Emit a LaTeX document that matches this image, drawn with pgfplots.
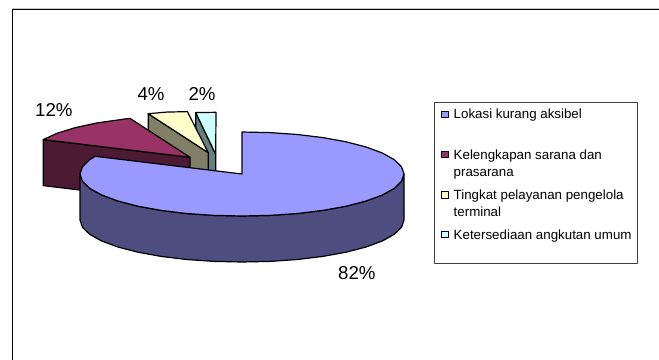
\documentclass[border=0pt]{standalone}
\usepackage{fontspec}
\setmainfont{Liberation Sans}
\usepackage{pgfplots}
\pgfplotsset{compat=1.18}

\definecolor{sliceA}{HTML}{9999FF}
\definecolor{sideA}{HTML}{4D4D80}
\definecolor{sliceB}{HTML}{993366}
\definecolor{sideB}{HTML}{4D1A33}
\definecolor{sliceC}{HTML}{FFFFCC}
\definecolor{sideC}{HTML}{808066}
\definecolor{sliceD}{HTML}{CCFFFF}
\definecolor{sideD}{HTML}{668080}

\newcommand{\pct}{\fontsize{18.67bp}{22bp}\selectfont}
\newcommand{\lgd}{\fontsize{13.33bp}{16bp}\selectfont}

\begin{document}
\begin{tikzpicture}
\begin{axis}[
  scale only axis, width=659bp, height=360bp,
  xmin=0, xmax=659, ymin=0, ymax=360, y dir=reverse,
  hide axis, clip=true,
  every axis plot/.append style={line width=1.2bp, line join=round},
]
% page background and outer frame
\addplot[draw=none, fill=white] coordinates {(0,0) (659,0) (659,360) (0,360)} -- cycle;
\addplot[color=black!22, line width=0.8bp] coordinates {(12,8.4) (659,8.4)};
\addplot[color=black, line width=1.1bp] coordinates {(12.5,360) (12.5,9.5) (659,9.5)};

% slice 4: 2 %
\addplot[draw=black, fill=sideD] coordinates {(195.7,112.6) (215.7,154.3) (215.7,200.3) (195.7,158.6)} -- cycle;
\addplot[draw=black, fill=sliceD] coordinates {(195.7,112.6) (216,112.3) (215.7,154.3)} -- cycle;

% slice 3: 4 %
\addplot[draw=black, fill=sideC] coordinates {(148.2,113.7) (208.3,152.7) (208.3,198.7) (148.2,159.7)} -- cycle;
\addplot[draw=black, fill=sliceC] coordinates {(148.2,113.7) (166.4,112.1) (187.4,111.6) (208.3,152.7)} -- cycle;

% slice 2: 12 %
\addplot[draw=black, fill=sideB] coordinates {(43.2,139.6) (190,157.3) (190,203.3) (43.2,185.6)} -- cycle;
\addplot[draw=black, fill=sliceB] coordinates {(43.2,139.6) (57.3,133.2) (75.4,127.6) (97.1,122.9) (129.9,118.3) (190,157.3)} -- cycle;

% slice 1: 82 %, rim then top
\addplot[draw=black, fill=sideA] coordinates {
  (404,174) (401.5,181.3) (394.2,188.4) (382.3,195) (366.1,201) (346.1,206.2)
  (323,210.4) (297.4,213.5) (270.1,215.4) (242,216) (213.9,215.4) (186.6,213.5)
  (161,210.4) (137.9,206.2) (117.9,201) (101.7,195) (89.8,188.4) (82.5,181.3) (80,174)
  (80,220) (82.5,227.3) (89.8,234.4) (101.7,241) (117.9,247) (137.9,252.2) (161,256.4)
  (186.6,259.5) (213.9,261.4) (242,262) (270.1,261.4) (297.4,259.5) (323,256.4)
  (346.1,252.2) (366.1,247) (382.3,241) (394.2,234.4) (401.5,227.3) (404,220)} -- cycle;
\addplot[draw=black, fill=sliceA] coordinates {
  (242,174) (242,132) (270.1,132.6) (297.4,134.5) (323,137.6) (346.1,141.8) (366.1,147)
  (382.3,153) (394.2,159.6) (401.5,166.7) (404,174) (401.5,181.3) (394.2,188.4)
  (382.3,195) (366.1,201) (346.1,206.2) (323,210.4) (297.4,213.5) (270.1,215.4) (242,216)
  (213.9,215.4) (186.6,213.5) (161,210.4) (137.9,206.2) (117.9,201) (101.7,195)
  (89.8,188.4) (82.5,181.3) (80,174) (82.5,166.7) (89.8,159.6) (95.2,156.3)} -- cycle;

% percentage labels
\node[anchor=base west, inner sep=0pt] at (axis cs:35,116) {\pct 12\%};
\node[anchor=base west, inner sep=0pt] at (axis cs:137.3,100) {\pct 4\%};
\node[anchor=base west, inner sep=0pt] at (axis cs:188.3,100) {\pct 2\%};
\node[anchor=base west, inner sep=0pt] at (axis cs:338,279.3) {\pct 82\%};

% legend frame
\addplot[draw=black!75, fill=white, line width=0.9bp] coordinates {(434.3,102) (637.7,102) (637.7,263.3) (434.3,263.3)} -- cycle;

% legend keys
\addplot[only marks, mark=square*, mark size=3.3bp, mark options={draw=black, fill=sliceA, line width=1.1bp}] coordinates {(445,114.4)};
\addplot[only marks, mark=square*, mark size=3.3bp, mark options={draw=black, fill=sliceB, line width=1.1bp}] coordinates {(445,154.4)};
\addplot[only marks, mark=square*, mark size=3.3bp, mark options={draw=black, fill=sliceC, line width=1.1bp}] coordinates {(445,195)};
\addplot[only marks, mark=square*, mark size=3.3bp, mark options={draw=black, fill=sliceD, line width=1.1bp}] coordinates {(445,234.4)};

% legend entries
\node[anchor=base west, inner sep=0pt] at (axis cs:453.5,118.5) {\lgd Lokasi kurang aksibel};
\node[anchor=base west, inner sep=0pt] at (axis cs:453.5,159.3) {\lgd Kelengkapan sarana dan};
\node[anchor=base west, inner sep=0pt] at (axis cs:453.5,176) {\lgd prasarana};
\node[anchor=base west, inner sep=0pt] at (axis cs:453.5,199.3) {\lgd Tingkat pelayanan pengelola};
\node[anchor=base west, inner sep=0pt] at (axis cs:453.5,216) {\lgd terminal};
\node[anchor=base west, inner sep=0pt] at (axis cs:453.5,239.3) {\lgd Ketersediaan angkutan umum};
\end{axis}
\end{tikzpicture}
\end{document}
